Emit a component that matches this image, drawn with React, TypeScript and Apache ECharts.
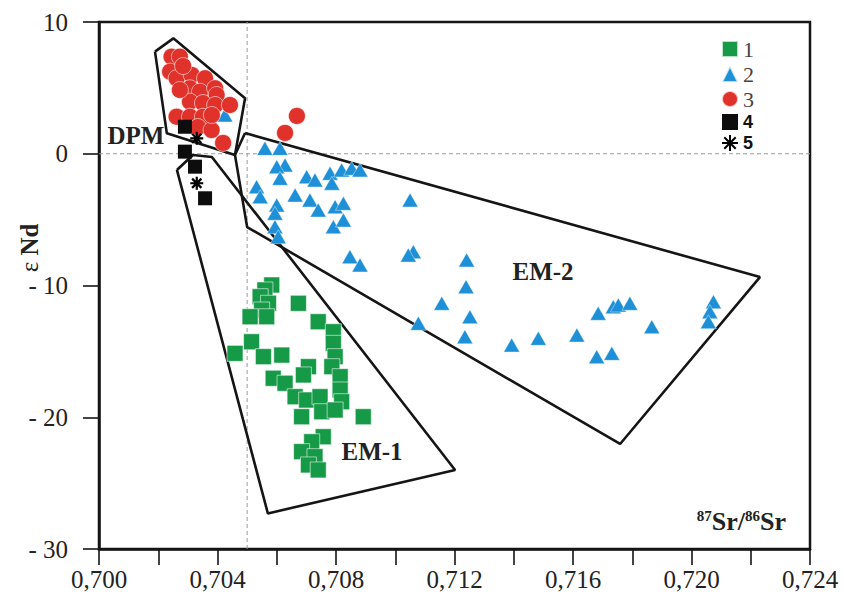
import React, { useEffect, useRef } from 'react';
import * as echarts from 'echarts';

// Axis ranges / ticks
const xMin = 0.7;
const xMax = 0.724;
const xInterval = 0.002;
const yMin = -30;
const yMax = 10;
const yInterval = 10;

// Series 1 (green squares)
const group1: [number, number][] = [
  [0.70583, -9.96], [0.7056, -10.34], [0.70544, -10.85], [0.70572, -11.35], [0.70549, -11.86],
  [0.7051, -12.37], [0.70566, -12.37], [0.70673, -11.35], [0.7074, -12.75], [0.70791, -13.51],
  [0.70515, -14.27], [0.70459, -15.15], [0.70555, -15.4], [0.70617, -15.28], [0.70707, -16.16],
  [0.7069, -16.79], [0.70791, -14.39], [0.70797, -15.4], [0.70786, -16.16], [0.70814, -16.92],
  [0.70588, -17.04], [0.70628, -17.42], [0.70662, -18.44], [0.70701, -18.69], [0.70746, -18.44],
  [0.70814, -17.93], [0.70819, -18.82], [0.70684, -19.96], [0.70752, -19.58], [0.70797, -19.45],
  [0.70892, -19.96], [0.70757, -21.48], [0.70718, -21.86], [0.70684, -22.61], [0.70729, -22.99],
  [0.70707, -23.62], [0.7074, -24.0],
];

// Series 2 (blue triangles)
const group2: [number, number][] = [
  [0.7056, 0.41], [0.70611, 0.41], [0.70628, -0.85], [0.706, -0.98], [0.70611, -1.86],
  [0.70532, -2.5], [0.70544, -3.26], [0.706, -3.89], [0.70594, -4.52], [0.70662, -3.13],
  [0.70701, -1.74], [0.70729, -1.99], [0.7078, -1.48], [0.70786, -2.24], [0.70819, -1.23],
  [0.70853, -1.1], [0.70881, -1.23], [0.70712, -3.51], [0.7074, -4.27], [0.70797, -4.02],
  [0.70825, -3.76], [0.70791, -5.54], [0.70825, -5.03], [0.70594, -5.54], [0.70605, -6.3],
  [0.70847, -7.81], [0.70881, -8.44], [0.7105, -3.51], [0.71061, -7.43], [0.71044, -7.69],
  [0.71241, -8.06], [0.71239, -10.09], [0.71157, -11.35], [0.71252, -12.37], [0.71078, -12.87],
  [0.71235, -13.89], [0.71393, -14.52], [0.71483, -14.01], [0.71613, -13.76], [0.71685, -12.11],
  [0.71736, -11.61], [0.71753, -11.48], [0.71792, -11.35], [0.71866, -13.13], [0.7168, -15.4],
  [0.71731, -15.15], [0.72074, -11.23], [0.72062, -11.99], [0.72057, -12.75], [0.70425, 2.94],
];

// Series 3 (red circles)
const group3: [number, number][] = [
  [0.70245, 7.37], [0.70273, 7.37], [0.7024, 6.23], [0.70262, 5.73], [0.70313, 5.98],
  [0.70358, 5.73], [0.70307, 4.97], [0.70341, 4.71], [0.70392, 4.97], [0.70397, 4.46],
  [0.70307, 3.95], [0.70351, 3.85], [0.70392, 3.7], [0.70442, 3.7], [0.70262, 2.81],
  [0.70307, 2.81], [0.70351, 2.81], [0.70334, 2.03], [0.7038, 1.8], [0.70419, 0.82],
  [0.70273, 4.84], [0.70284, 6.66], [0.70381, 2.94], [0.70668, 2.87], [0.70628, 1.58],
];

// Series 4 (black squares)
const group4: [number, number][] = [
  [0.7029, 2.05], [0.7029, 0.16], [0.70324, -0.98], [0.70358, -3.38],
];

// Series 5 (asterisks)
const group5: [number, number][] = [
  [0.7033, 1.17], [0.7033, -2.24],
];

// Field outlines
const dpmField: [number, number][] = [
  [0.70189, 7.75], [0.70251, 8.76], [0.70493, 4.21], [0.70459, -0.09], [0.70229, 1.55], [0.70189, 7.75],
];
const em1Field: [number, number][] = [
  [0.70263, -1.23], [0.70317, -0.09], [0.70381, -0.25], [0.71202, -24.0], [0.7057, -27.3], [0.70263, -1.23],
];
const em2Field: [number, number][] = [
  [0.70493, 1.57], [0.72231, -9.36], [0.71759, -22.03], [0.705, -5.56], [0.70459, -0.09], [0.70493, 1.57],
];

// Reference lines
const bulkEarthSr = 0.705;
const chur = 0;

const SERIF = '"Liberation Serif", "DejaVu Serif", serif';
const SANS = '"Liberation Sans", Arial, sans-serif';
const STAR = 'path://M8,0L8,16M0,8L16,8M2.3,2.3L13.7,13.7M2.3,13.7L13.7,2.3';

export default function App() {
  const ref = useRef<HTMLDivElement>(null);
  useEffect(() => {
    if (!ref.current) return;
    const chart = echarts.init(ref.current, undefined, { renderer: 'svg' });
    const outline = (name: string, data: [number, number][]) => ({
      name,
      type: 'line',
      data,
      symbol: 'none',
      silent: true,
      z: 1,
      lineStyle: { color: '#151515', width: 2.6 },
    });
    chart.setOption({
      animation: false,
      backgroundColor: '#fff',
      grid: { left: 99, right: 34, top: 22, bottom: 49, show: true, borderColor: '#151515', borderWidth: 2.5 },
      legend: {
        orient: 'vertical',
        left: 716,
        top: 33,
        itemWidth: 16,
        itemHeight: 16,
        itemGap: 3,
        data: ['1', '2', '3', '4', '5'],
        formatter: (n: string) => (['1', '2', '3'].includes(n) ? `{s|${n}}` : `{b|${n}}`),
        textStyle: {
          rich: {
            s: { fontFamily: SERIF, fontSize: 22, color: '#444' },
            b: { fontFamily: SANS, fontWeight: 'bold', fontSize: 18, color: '#111' },
          },
        },
      },
      xAxis: {
        type: 'value',
        min: xMin,
        max: xMax,
        interval: xInterval,
        splitLine: { show: false },
        axisLine: { onZero: false, lineStyle: { color: '#151515', width: 2.5 } },
        axisTick: { length: 16, lineStyle: { color: '#151515', width: 1.6 } },
        axisLabel: {
          margin: 18,
          fontFamily: SERIF,
          fontSize: 25,
          color: '#222',
          formatter: (v: number, i: number) => (i % 2 === 0 ? v.toFixed(3).replace('.', ',') : ''),
        },
      },
      yAxis: {
        type: 'value',
        min: yMin,
        max: yMax,
        interval: yInterval,
        splitLine: { show: false },
        axisLine: { onZero: false, lineStyle: { color: '#151515', width: 2.5 } },
        axisTick: { length: 16, lineStyle: { color: '#151515', width: 1.6 } },
        axisLabel: {
          margin: 31,
          fontFamily: SERIF,
          fontSize: 25,
          color: '#222',
          formatter: (v: number) => (v < 0 ? `- ${Math.abs(v)}` : `${v}`),
        },
      },
      graphic: [
        { type: 'text', x: 136, y: 135, style: { text: 'DPM', align: 'center', verticalAlign: 'middle', font: `bold 25px ${SERIF}`, fill: '#222' } },
        { type: 'text', x: 372, y: 451, style: { text: 'EM-1', align: 'center', verticalAlign: 'middle', font: `bold 25px ${SERIF}`, fill: '#222' } },
        { type: 'text', x: 543, y: 271, style: { text: 'EM-2', align: 'center', verticalAlign: 'middle', font: `bold 25px ${SERIF}`, fill: '#222' } },
        {
          type: 'text', x: 29, y: 248, rotation: Math.PI / 2,
          style: {
            text: '{e|ε }{n|Nd}', align: 'center', verticalAlign: 'middle',
            rich: {
              e: { fontFamily: SERIF, fontSize: 25, fill: '#222' },
              n: { fontFamily: SERIF, fontSize: 25, fontWeight: 'bold', fill: '#222' },
            },
          },
        },
        {
          type: 'text', x: 786, y: 521,
          style: {
            text: '{p|87}{b|Sr/}{p|86}{b|Sr}', align: 'right', verticalAlign: 'middle',
            rich: {
              p: { fontFamily: SERIF, fontSize: 15, fontWeight: 'bold', verticalAlign: 'top', fill: '#222' },
              b: { fontFamily: SERIF, fontSize: 26, fontWeight: 'bold', fill: '#222' },
            },
          },
        },
      ],
      series: [
        {
          name: 'ref-v', type: 'line', data: [[bulkEarthSr, yMin], [bulkEarthSr, yMax]], symbol: 'none', silent: true, z: 0,
          lineStyle: { color: '#9a9a9a', width: 1, type: [4, 3] },
        },
        {
          name: 'ref-h', type: 'line', data: [[xMin, chur], [xMax, chur]], symbol: 'none', silent: true, z: 0,
          lineStyle: { color: '#9a9a9a', width: 1, type: [4, 3] },
        },
        outline('dpm', dpmField),
        outline('em1', em1Field),
        outline('em2', em2Field),
        {
          name: '1', type: 'scatter', data: group1, symbol: 'rect', symbolSize: 16, z: 3,
          itemStyle: { color: '#169a48', borderColor: 'rgba(255,255,255,0.7)', borderWidth: 0.8, opacity: 1 },
        },
        {
          name: '2', type: 'scatter', data: group2, symbol: 'triangle', symbolSize: [16, 14], z: 3,
          itemStyle: { color: '#1d90d8', borderColor: 'rgba(255,255,255,0.7)', borderWidth: 0.6, opacity: 1 },
        },
        {
          name: '3', type: 'scatter', data: group3, symbol: 'circle', symbolSize: 17, z: 3,
          itemStyle: { color: '#e0312b', borderColor: 'rgba(255,255,255,0.7)', borderWidth: 0.8, opacity: 1 },
        },
        {
          name: '4', type: 'scatter', data: group4, symbol: 'rect', symbolSize: 14, z: 4,
          itemStyle: { color: '#0d0d0d', opacity: 1 },
        },
        {
          name: '5', type: 'scatter', data: group5, symbol: STAR, symbolSize: 13, z: 4,
          itemStyle: { color: '#000', borderColor: '#000', borderWidth: 2.2, opacity: 1 },
        },
      ],
    });
    return () => chart.dispose();
  }, []);
  return <div ref={ref} style={{ position: 'fixed', left: 0, top: 0, width: 844, height: 598, background: '#fff' }} />;
}
